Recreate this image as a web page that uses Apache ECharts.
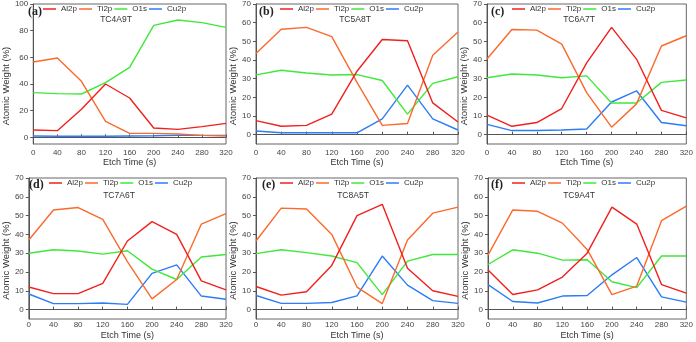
<!DOCTYPE html>
<html>
<head>
<meta charset="utf-8">
<script src="https://cdn.jsdelivr.net/npm/echarts@6/dist/echarts.min.js"></script>
<style>
  html, body { margin: 0; padding: 0; background: #fff; }
  #chart { width: 696px; height: 342px; }
</style>
</head>
<body>
<div id="chart"></div>
<script>
// etch time (s), shared by all panels
const etchTime = [0, 40, 80, 120, 160, 200, 240, 280, 320];

// (a) TC4A9T
const al2pA = [5.5, 5, 21, 40, 29.5, 7, 6, 8, 10.5];
const ti2pA = [56.5, 59.5, 42, 12, 3, 3, 2.5, 1.5, 1];
const o1sA  = [33.5, 32.8, 32.5, 41, 52.5, 84, 88, 86, 82.5];
const cu2pA = [1, 0.8, 0.8, 0.8, 1, 1.2, 1.5, 1.5, 1.5];

// (b) TC5A8T
const al2pB = [7.5, 4.5, 5, 11, 34, 51, 50.3, 17, 6.8];
const ti2pB = [43.5, 56.5, 57.5, 52.5, 28, 5, 6, 42.5, 55];
const o1sB  = [32, 34.5, 33, 32, 32.2, 29, 11, 27.5, 31];
const cu2pB = [2, 1, 1, 1, 1, 8.5, 26.5, 8.5, 2.5];

// (c) TC6A7T
const al2pC = [10.5, 4.5, 6.5, 14, 38.5, 57.5, 40.5, 13, 9];
const ti2pC = [40.5, 56.3, 56, 48.5, 22.5, 4, 16.5, 47.5, 53];
const o1sC  = [30.5, 32.5, 32, 30.5, 31.5, 17, 17, 28, 29.3];
const cu2pC = [5.5, 2.2, 2.2, 2.5, 3, 17.5, 23.5, 6.5, 4.8];

// (d) TC7A6T
const al2pD = [12, 8.5, 8.5, 14, 36.5, 46.8, 40, 15.3, 10.5];
const ti2pD = [37, 53, 54.3, 48, 25.5, 5.7, 16, 45.5, 51];
const o1sD  = [30, 31.8, 31.2, 29.5, 31.3, 21.5, 16, 28, 29.3];
const cu2pD = [8.3, 3.2, 3.2, 3.5, 2.8, 19.3, 23.8, 7.2, 5.5];

// (e) TC8A5T
const al2pE = [12.3, 7.7, 9.5, 23.5, 50, 56, 22, 10, 7];
const ti2pE = [36.5, 54, 53.5, 40, 12, 3.2, 37, 51.3, 54.5];
const o1sE  = [29.8, 31.8, 30.3, 28.5, 25, 8, 25.8, 29.3, 29.3];
const cu2pE = [7.5, 3.3, 3.3, 3.8, 7.3, 28.5, 13, 4.8, 3.3];

// (f) TC9A4T
const al2pF = [21, 8, 10.5, 17.3, 30, 54.5, 45.5, 13.3, 8.8];
const ti2pF = [29, 53, 52.3, 46, 32, 8, 12.5, 47.3, 55];
const o1sF  = [24, 31.8, 30, 26.3, 26.5, 14.8, 11.7, 28.5, 28.5];
const cu2pF = [13.3, 4.3, 3.5, 7.2, 7.5, 18.5, 27.7, 6.8, 4];

const seriesNames = ["Al2p", "Ti2p", "O1s", "Cu2p"];
const colors = ["#f0201e", "#fb6a2c", "#3fe83a", "#2c7cf6"];
const ticksA = [0, 20, 40, 60, 80, 100];
const ticksOther = [0, 10, 20, 30, 40, 50, 60, 70];

const narrow = "'Liberation Sans Narrow', 'Liberation Sans', Arial, sans-serif";
const regular = "'Liberation Sans', Arial, sans-serif";

const panels = [
  { tag: "(a)", name: "TC4A9T", data: [al2pA, ti2pA, o1sA, cu2pA], max: 100, ticks: ticksA,
    grid: { left: 25, top: 4, width: 201, height: 140 }, legendX: 43, tagX: 28, subX: 116, row: 0 },
  { tag: "(b)", name: "TC5A8T", data: [al2pB, ti2pB, o1sB, cu2pB], max: 70, ticks: ticksOther,
    grid: { left: 256, top: 4, width: 202, height: 140 }, legendX: 280, tagX: 259, subX: 355, row: 0 },
  { tag: "(c)", name: "TC6A7T", data: [al2pC, ti2pC, o1sC, cu2pC], max: 70, ticks: ticksOther,
    grid: { left: 487, top: 4, width: 203, height: 140 }, legendX: 512, tagX: 491, subX: 579, row: 0 },
  { tag: "(d)", name: "TC7A6T", data: [al2pD, ti2pD, o1sD, cu2pD], max: 70, ticks: ticksOther,
    grid: { left: 25, top: 178, width: 201, height: 141 }, legendX: 49, tagX: 29, subX: 119, row: 1 },
  { tag: "(e)", name: "TC8A5T", data: [al2pE, ti2pE, o1sE, cu2pE], max: 70, ticks: ticksOther,
    grid: { left: 256, top: 178, width: 202, height: 141 }, legendX: 280, tagX: 262, subX: 353, row: 1 },
  { tag: "(f)", name: "TC9A4T", data: [al2pF, ti2pF, o1sF, cu2pF], max: 70, ticks: ticksOther,
    grid: { left: 488, top: 178, width: 202, height: 141 }, legendX: 512, tagX: 491, subX: 579, row: 1 }
];

const grid = [], xAxis = [], yAxis = [], series = [], legend = [], title = [];

panels.forEach((p, k) => {
  grid.push(Object.assign({ show: true, borderColor: "#666", borderWidth: 1 }, p.grid));
  xAxis.push({
    gridIndex: k, type: "value", min: 0, max: 320, interval: 40,
    name: "Etch Time (s)", nameLocation: "middle", nameGap: p.row === 0 ? 14 : 12,
    nameTextStyle: { fontFamily: narrow, fontSize: 9, color: "#333" },
    axisLine: { lineStyle: { color: "#555", width: 1 } },
    axisTick: { inside: true, length: 3, lineStyle: { color: "#555" } },
    axisLabel: { fontFamily: narrow, fontSize: 8, color: "#444", margin: p.row === 0 ? 5 : 2 },
    splitLine: { show: false }
  });
  yAxis.push({
    gridIndex: k, type: "value", min: -5, max: p.max,
    name: "Atomic Weight (%)", nameLocation: "middle", nameGap: 13,
    nameTextStyle: { fontFamily: regular, fontSize: 9.5, color: "#333", padding: [0, 24, 0, 0] },
    axisLine: { lineStyle: { color: "#555", width: 1 } },
    axisTick: { length: 3, customValues: p.ticks, lineStyle: { color: "#555" } },
    axisLabel: { fontFamily: narrow, fontSize: 8, color: "#444", margin: 5, customValues: p.ticks },
    splitLine: { show: false }
  });
  p.data.forEach((arr, s) => {
    series.push({
      name: seriesNames[s], type: "line", xAxisIndex: k, yAxisIndex: k,
      data: etchTime.map((t, i) => [t, arr[i]]),
      symbol: "none", showSymbol: false, color: colors[s],
      lineStyle: { width: 1.4, color: colors[s] },
      z: 2 + (3 - s)
    });
  });
  legend.push({
    data: seriesNames, left: p.legendX, top: p.row === 0 ? 5 : 179,
    icon: "rect", itemWidth: 13, itemHeight: 1.5, itemGap: 2, padding: 0,
    itemStyle: { borderWidth: 0 },
    textStyle: { fontFamily: narrow, fontSize: 8, color: "#333" },
    selectedMode: false
  });
  title.push({
    text: p.tag, left: p.tagX, top: p.row === 0 ? 6 : 179, padding: 0,
    textStyle: { fontFamily: "'Liberation Serif', 'Times New Roman', serif", fontWeight: "bold", fontSize: 12, color: "#222" }
  });
  title.push({
    text: p.name, left: p.subX, top: p.row === 0 ? 15 : 191, padding: 0, textAlign: "center",
    textStyle: { fontFamily: narrow, fontWeight: "normal", fontSize: 8.5, color: "#333" }
  });
});

const chart = echarts.init(document.getElementById("chart"), null, { renderer: "canvas" });
chart.setOption({
  animation: false,
  backgroundColor: "#fff",
  title, legend, grid, xAxis, yAxis, series
});
</script>
</body>
</html>
